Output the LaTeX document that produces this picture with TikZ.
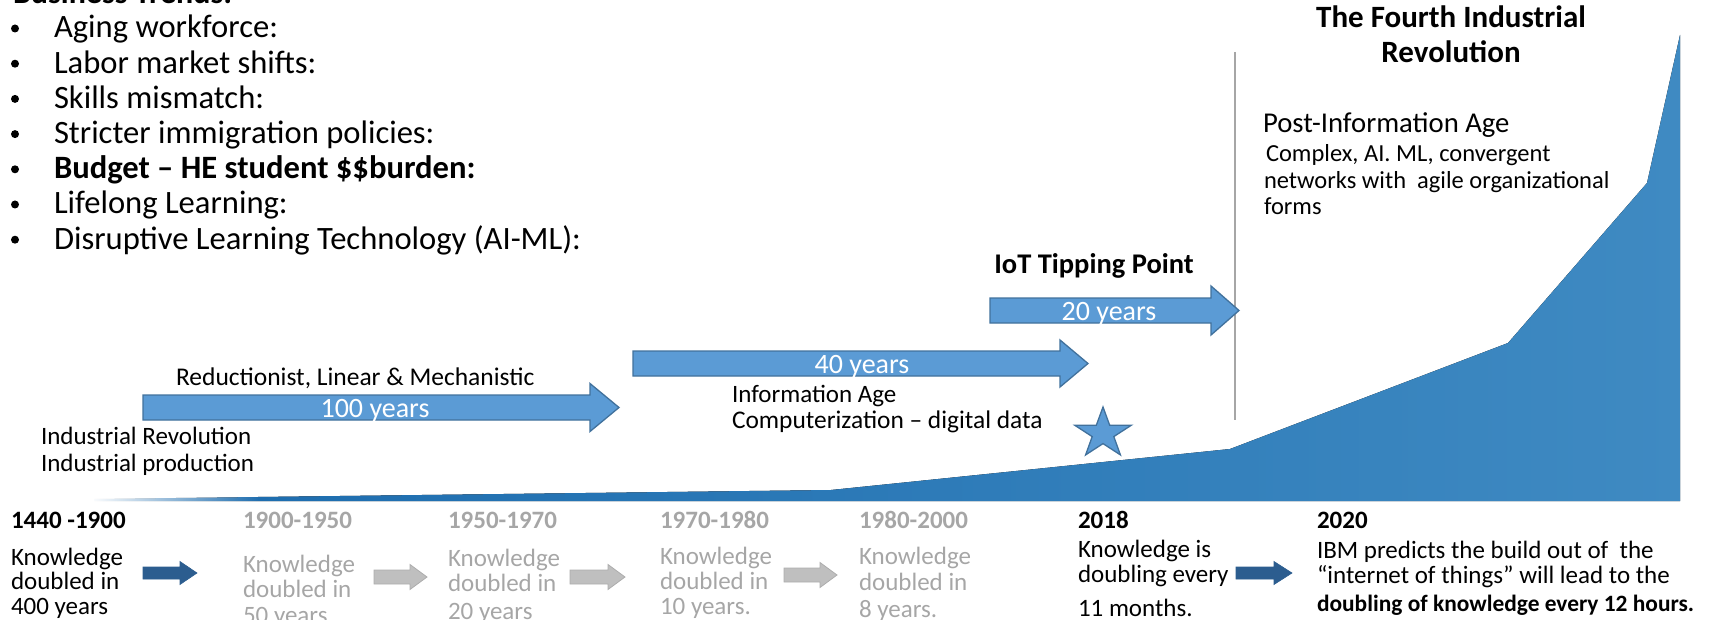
\documentclass[tikz,border=0pt]{standalone}
\usepackage{fontspec}
\setmainfont{Carlito}
\usetikzlibrary{fadings}
\definecolor{abl}{HTML}{5B9BD5}
\definecolor{abd}{HTML}{41719C}
\definecolor{dkar}{HTML}{2C5D8F}
\definecolor{gyar}{HTML}{BFBFBF}
\definecolor{gyard}{HTML}{ADADAD}
\definecolor{gytx}{HTML}{A6A6A6}
\definecolor{arL}{HTML}{1A6AAD}
\definecolor{arR}{HTML}{3F8AC2}
\definecolor{vln}{HTML}{A6A6A6}
\begin{document}
\begin{tikzpicture}[x=1pt,y=-1pt,
  tx/.style={anchor=base west, inner sep=0pt, outer sep=0pt},
  txc/.style={anchor=base, inner sep=0pt, outer sep=0pt},
  big/.style={font=\fontsize{32.6}{35}\selectfont},
  mid/.style={font=\fontsize{28}{31}\selectfont},
  sml/.style={font=\fontsize{25}{28}\selectfont},
  smb/.style={font=\fontsize{25}{28}\selectfont\bfseries},
  cpx/.style={font=\fontsize{24.5}{27}\selectfont},
  gr/.style={text=gytx},
  dot/.style={circle, fill=black, inner sep=0pt, minimum size=8pt},
  bigarrow/.style={fill=abl, draw=abd, line width=1.3pt, line join=miter},
  darrow/.style={fill=dkar, draw=dkar, line width=0.6pt},
  garrow/.style={fill=gyar, draw=gyard, line width=0.8pt},
  pics/blkarrow/.style args={#1/#2/#3/#4}{code={
    \path[pic actions] (0,-#2) -- (#1-#4,-#2) -- (#1-#4,-#3) -- (#1,0)
      -- (#1-#4,#3) -- (#1-#4,#2) -- (0,#2) -- cycle;}}
]
\useasboundingbox (0,0) rectangle (1726,620);
\clip (0,0) rectangle (1726,620);

% area chart
\fill[left color=arL, right color=arR]
  (94,499) -- (831,490) -- (1230,449) -- (1508,343) -- (1647,183)
  -- (1680,35) -- (1680,501) -- (94,501) -- cycle;
\fill[white, path fading=east] (90,480) rectangle (260,503);

% vertical line
\coordinate (vtop) at (1235,52);
\coordinate (vbot) at (1235,420);
\draw[vln, line width=2pt] (vtop) -- (vbot);

% bullet list
\node[tx, font=\fontsize{32}{35}\selectfont\bfseries] (bt) at (13,3.5) {Business Trends:};
\foreach \i/\t [count=\k] in {
  38/{Aging workforce:},
  73.2/{Labor market shifts:},
  108.4/{Skills mismatch:},
  143.6/{Stricter immigration policies:},
  178.8/{\textbf{Budget -- HE student \$\$burden:}},
  214/{Lifelong Learning:},
  249.2/{Disruptive Learning Technology (AI-ML):}}{
  \node[dot] (bd\k) at (15,\i-9.5) {};
  \node[tx, big] (bl\k) at (54,\i) {\t};
}

% title
\node[txc, font=\fontsize{31}{35}\selectfont\bfseries] (t1) at (1451,28) {The Fourth Industrial};
\node[txc, font=\fontsize{31}{35}\selectfont\bfseries] (t2) at (1451,63) {Revolution};
\node[tx, font=\fontsize{28.7}{31}\selectfont] (pia) at (1263,133) {Post-Information Age};
\node[tx, cpx] (c1) at (1266,162) {Complex, AI. ML, convergent};
\node[tx, cpx] (c2) at (1264,188.5) {networks with\ \ agile organizational};
\node[tx, cpx] (c3) at (1264,215) {forms};

% big arrows
\pic[bigarrow] at (143,407.5) {blkarrow={476/12.5/24/29}};
\pic[bigarrow] at (633,363.5) {blkarrow={455/12.5/23.5/28}};
\pic[bigarrow] at (990,310.5) {blkarrow={249/12.5/24.5/28}};
\node[txc, mid, text=white] (y100) at (375,417) {100 years};
\node[txc, mid, text=white] (y40) at (862,373) {40 years};
\node[txc, mid, text=white] (y20) at (1109,320) {20 years};

\node[txc, font=\fontsize{28.5}{31}\selectfont\bfseries] (iot) at (1094,273) {IoT Tipping Point};
\node[tx, font=\fontsize{25.5}{28}\selectfont] (red) at (176,385) {Reductionist, Linear \& Mechanistic};
\node[tx, sml] (ir1) at (41,444) {Industrial Revolution};
\node[tx, sml] (ir2) at (41,471) {Industrial production};
\node[tx, sml] (ia1) at (732,402) {Information Age};
\node[tx, font=\fontsize{25.4}{28}\selectfont] (ia2) at (732,428) {Computerization -- digital data};

% star
\draw[fill=abl, draw=abd, line width=1.3pt, line join=miter]
  (1103,407) -- (1109.7,425.3) -- (1131.2,425.3) -- (1113.8,436.6)
  -- (1120.4,454.9) -- (1103,443.6) -- (1085.6,454.9) -- (1092.2,436.6)
  -- (1074.8,425.3) -- (1096.3,425.3) -- cycle;

% bottom timeline
\node[tx, smb] (p1y) at (11,528) {1440 -1900};
\node[tx, sml] (p1a) at (11,565) {Knowledge};
\node[tx, sml] (p1b) at (11,589) {doubled in};
\node[tx, sml] (p1c) at (11,614) {400 years};

\node[tx, smb, gr] (p2y) at (243,528) {1900-1950};
\node[tx, sml, gr] (p2a) at (243,572) {Knowledge};
\node[tx, sml, gr] (p2b) at (243,597) {doubled in};
\node[tx, sml, gr] (p2c) at (243,623) {50 years};

\node[tx, smb, gr] (p3y) at (448,528) {1950-1970};
\node[tx, sml, gr] (p3a) at (448,566) {Knowledge};
\node[tx, sml, gr] (p3b) at (448,591) {doubled in};
\node[tx, sml, gr] (p3c) at (448,619) {20 years};

\node[tx, smb, gr] (p4y) at (660,528) {1970-1980};
\node[tx, sml, gr] (p4a) at (660,564) {Knowledge};
\node[tx, sml, gr] (p4b) at (660,589) {doubled in};
\node[tx, sml, gr] (p4c) at (660,614) {10 years.};

\node[tx, smb, gr] (p5y) at (859,528) {1980-2000};
\node[tx, sml, gr] (p5a) at (859,564) {Knowledge};
\node[tx, sml, gr] (p5b) at (859,590) {doubled in};
\node[tx, sml, gr] (p5c) at (859,617) {8 years.};

\node[tx, smb] (p6y) at (1078,528) {2018};
\node[tx, sml] (p6a) at (1078,557) {Knowledge is};
\node[tx, sml] (p6b) at (1078,582) {doubling every};
\node[tx, sml] (p6c) at (1078,616) {11 months.};

\node[tx, smb] (p7y) at (1317,528) {2020};
\node[tx, sml] (p7a) at (1317,558) {IBM predicts the build out of\ \ the};
\node[tx, sml] (p7b) at (1317,583) {“internet of things” will lead to the};
\node[tx, font=\fontsize{23.4}{28}\selectfont\bfseries] (p7c) at (1317,611) {doubling of knowledge every 12 hours.};

% small arrows
\pic[darrow] at (143,573) {blkarrow={54/6/11.5/17}};
\pic[garrow] at (374,577) {blkarrow={53/7/12.5/17}};
\pic[garrow] at (570,577) {blkarrow={55/7/12.5/17}};
\pic[garrow] at (784,575) {blkarrow={53/7/12.5/17}};
\pic[darrow] at (1236,573) {blkarrow={56/6/11.5/18}};
\end{tikzpicture}
\end{document}
